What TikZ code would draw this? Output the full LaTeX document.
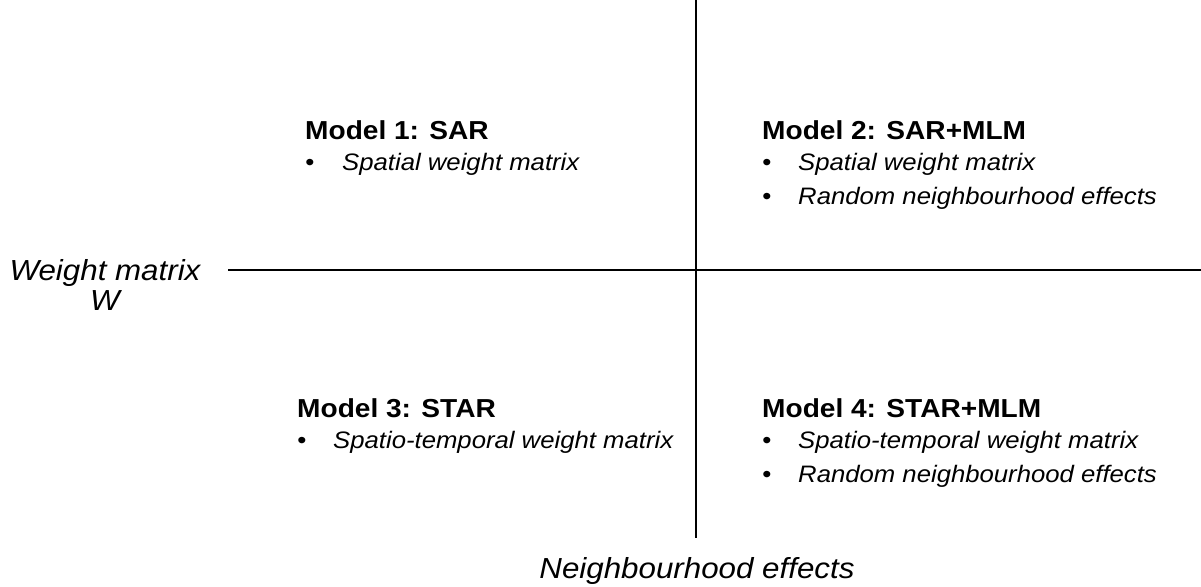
\documentclass[tikz,border=0pt]{standalone}
\usepackage{fontspec}
\setmainfont{Liberation Sans}[FakeStretch=1.08]
\begin{document}
\begin{tikzpicture}[x=1pt,y=-1pt,
  title/.style={anchor=base west,inner sep=0pt,font=\fontsize{26}{30}\selectfont\bfseries},
  item/.style={anchor=base west,inner sep=0pt,font=\fontsize{23.8}{28}\selectfont\itshape},
  dot/.style={anchor=base,inner sep=0pt,font=\fontsize{24}{28}\selectfont},
  axislabel/.style={anchor=base,inner sep=0pt,font=\fontsize{29}{33}\selectfont\itshape},
  axis/.style={line width=2.2pt}]
\useasboundingbox (0,0) rectangle (1201,586);
\coordinate (vtop) at (696,0);
\coordinate (vbot) at (696,538);
\coordinate (hl) at (228,270);
\coordinate (hr) at (1201,270);
\draw[axis] (vtop) -- (vbot);
\draw[axis] (hl) -- (hr);
\node[axislabel] (wm) at (105,280) {Weight matrix};
\node[axislabel] (w) at (105,310) {W};
\node[axislabel] (ne) at (697,578) {Neighbourhood effects};
% Model 1
\node[title] (m1) at (305,139) {Model 1: SAR};
\node[dot] (m1b1) at (310,170) {•};
\node[item] (m1t1) at (342,170) {Spatial weight matrix};
% Model 2
\node[title] (m2) at (762,139) {Model 2: SAR+MLM};
\node[dot] (m2b1) at (767,170) {•};
\node[item] (m2t1) at (798,170) {Spatial weight matrix};
\node[dot] (m2b2) at (767,204) {•};
\node[item] (m2t2) at (798,204) {Random neighbourhood effects};
% Model 3
\node[title] (m3) at (297,417) {Model 3: STAR};
\node[dot] (m3b1) at (302,448) {•};
\node[item] (m3t1) at (333,448) {Spatio-temporal weight matrix};
% Model 4
\node[title] (m4) at (762,417) {Model 4: STAR+MLM};
\node[dot] (m4b1) at (767,448) {•};
\node[item] (m4t1) at (798,448) {Spatio-temporal weight matrix};
\node[dot] (m4b2) at (767,482) {•};
\node[item] (m4t2) at (798,482) {Random neighbourhood effects};
\end{tikzpicture}
\end{document}
